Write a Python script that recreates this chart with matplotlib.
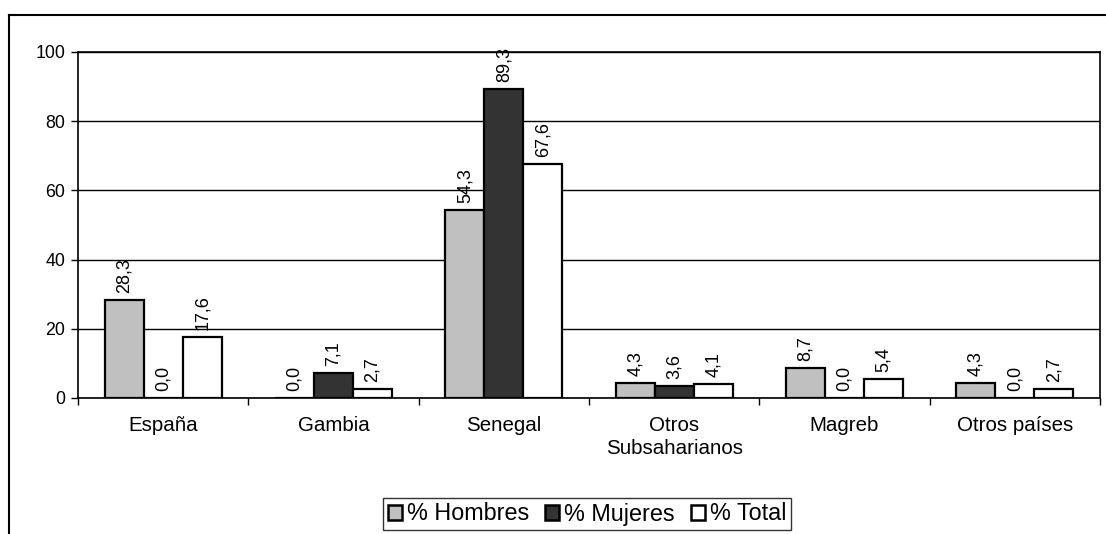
import matplotlib
matplotlib.use("Agg")
import matplotlib.pyplot as plt
from matplotlib.lines import Line2D
from matplotlib.patches import Patch
import numpy as np

plt.rcParams['font.family'] = ['Liberation Sans', 'DejaVu Sans']

categories = ["España", "Gambia", "Senegal", "Otros\nSubsaharianos", "Magreb", "Otros países"]
series_names = ["% Hombres", "% Mujeres", "% Total"]
hombres = [28.3, 0.0, 54.3, 4.3, 8.7, 4.3]
mujeres = [0.0, 7.1, 89.3, 3.6, 0.0, 0.0]
total = [17.6, 2.7, 67.6, 4.1, 5.4, 2.7]
colors = ["#C0C0C0", "#333333", "#FFFFFF"]
yticks = [0, 20, 40, 60, 80, 100]

W, H = 1106, 534
fig = plt.figure(figsize=(W / 100, H / 100), dpi=100)
ax = fig.add_axes([78 / W, 1 - 398 / H, (1100 - 78) / W, (398 - 52) / H])

x = np.arange(len(categories))
bw = 0.229
for i, (vals, col) in enumerate(zip([hombres, mujeres, total], colors)):
    pos = x + (i - 1) * bw
    ax.bar(pos, vals, width=bw, color=col, edgecolor="black", linewidth=1.6, zorder=3)
    for p, v in zip(pos, vals):
        ax.annotate(f"{v:.1f}".replace(".", ","), (p, v), xytext=(0, 5),
                    textcoords="offset points", rotation=90, ha="center", va="bottom",
                    fontsize=13, zorder=4)

ax.set_xlim(-0.5, len(categories) - 0.5)
ax.set_ylim(0, 100)
ax.set_yticks(yticks)
ax.set_yticklabels([str(t) for t in yticks], fontsize=12.8)
ax.yaxis.grid(True, color="black", linewidth=1.0, zorder=0)
ax.set_axisbelow(True)

ax.set_xticks(np.arange(-0.5, len(categories)), minor=False)
ax.set_xticklabels([])
ax.set_xticks(x, minor=True)
ax.set_xticklabels(categories, minor=True, fontsize=14.8, linespacing=1.25)
ax.tick_params(axis="x", which="minor", length=0, pad=13)
ax.tick_params(axis="x", which="major", length=5, width=1.0, direction="out")
ax.tick_params(axis="y", length=5, width=1.0, direction="out", pad=4)
for s in ax.spines.values():
    s.set_linewidth(1.2)
    s.set_color("black")

handles = [Patch(facecolor=c, edgecolor="black", linewidth=1.8) for c in colors]
leg = fig.legend(handles, series_names, loc="center", bbox_to_anchor=(587 / W, 1 - 514 / H),
                 ncol=3, fontsize=16.8, frameon=True, fancybox=False, shadow=False,
                 handlelength=0.6, handleheight=0.6, handletextpad=0.2, columnspacing=0.7,
                 borderpad=0.2, borderaxespad=0)
leg.get_frame().set_edgecolor("black")
leg.get_frame().set_linewidth(1.0)

# outer chart border (left and top)
fig.add_artist(Line2D([9 / W, 9 / W], [0, 1 - 15 / H], transform=fig.transFigure, color="black", linewidth=1.5))
fig.add_artist(Line2D([9 / W, 1], [1 - 15 / H, 1 - 15 / H], transform=fig.transFigure, color="black", linewidth=1.5))

fig.savefig("out.png", dpi=100)
